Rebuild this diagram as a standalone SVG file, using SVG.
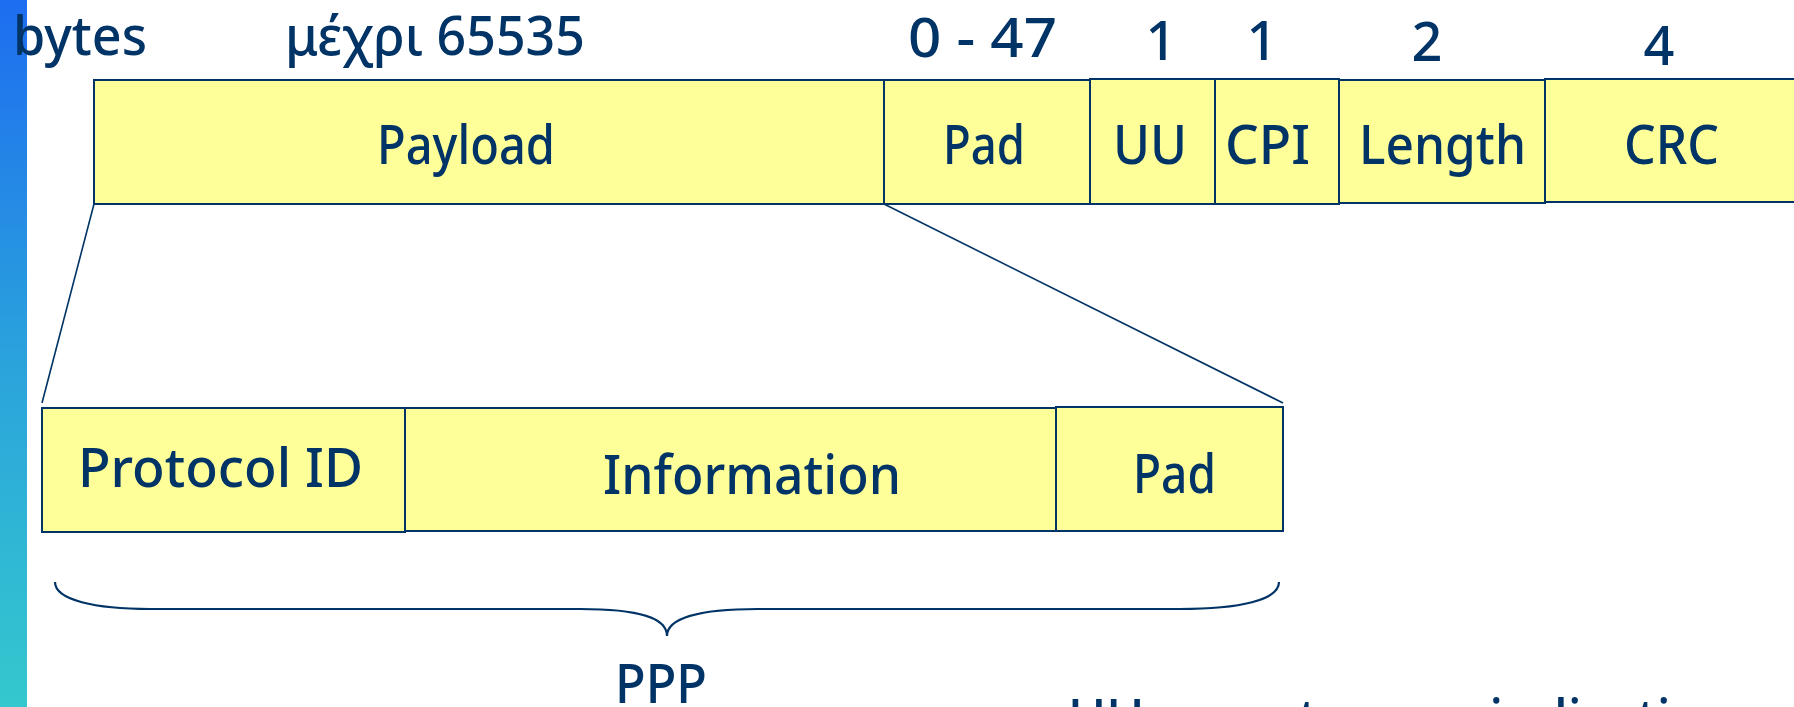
<svg xmlns="http://www.w3.org/2000/svg" width="1794" height="707" viewBox="0 0 1794 707">
  <defs>
    <linearGradient id="bar" x1="0" y1="0" x2="0" y2="1">
      <stop offset="0" stop-color="#1E6DF0"/>
      <stop offset="0.5" stop-color="#2AA2DC"/>
      <stop offset="1" stop-color="#34C8CE"/>
    </linearGradient>
  </defs>
  <style>
    .box { fill: #FFFF99; stroke: #003366; stroke-width: 2; }
    .t { font-family: "Noto Sans", "DejaVu Sans", sans-serif; font-size: 54px; font-weight: 500; fill: #003366; }
    .ln { fill: none; stroke: #003366; stroke-width: 1.6; }
    .br { fill: none; stroke: #003366; stroke-width: 2.2; }
  </style>
  <rect x="0" y="0" width="1794" height="707" fill="#ffffff"/>
  <rect id="sidebar" x="0" y="0" width="27" height="707" fill="url(#bar)"/>

  <g id="size-labels">
    <text class="t" x="13" y="55" textLength="134" lengthAdjust="spacingAndGlyphs">bytes</text>
    <text class="t" x="285" y="55" textLength="300" lengthAdjust="spacingAndGlyphs">μέχρι 65535</text>
    <text class="t" x="908" y="57" textLength="149" lengthAdjust="spacingAndGlyphs">0 - 47</text>
    <text class="t" x="1161" y="60" text-anchor="middle">1</text>
    <text class="t" x="1262" y="60" text-anchor="middle">1</text>
    <text class="t" x="1427" y="61" text-anchor="middle">2</text>
    <text class="t" x="1659" y="65" text-anchor="middle">4</text>
  </g>

  <g id="connectors">
    <line class="ln" x1="94" y1="204" x2="42" y2="403"/>
    <line class="ln" x1="884" y1="204" x2="1283" y2="403"/>
  </g>

  <g id="payload">
    <rect class="box" x="94" y="80" width="790" height="124"/>
    <text class="t" x="377" y="164" textLength="178" lengthAdjust="spacingAndGlyphs">Payload</text>
  </g>
  <g id="pad-top">
    <rect class="box" x="884" y="80" width="206" height="124"/>
    <text class="t" x="943" y="164" textLength="82" lengthAdjust="spacingAndGlyphs">Pad</text>
  </g>
  <g id="uu">
    <rect class="box" x="1090" y="79" width="125" height="125"/>
    <text class="t" x="1113" y="164" textLength="74" lengthAdjust="spacingAndGlyphs">UU</text>
  </g>
  <g id="cpi">
    <rect class="box" x="1215" y="79" width="124" height="125"/>
    <text class="t" x="1225" y="164" textLength="85" lengthAdjust="spacingAndGlyphs">CPI</text>
  </g>
  <g id="length">
    <rect class="box" x="1339" y="80" width="206" height="123"/>
    <text class="t" x="1359" y="164" textLength="167" lengthAdjust="spacingAndGlyphs">Length</text>
  </g>
  <g id="crc">
    <rect class="box" x="1545" y="79" width="260" height="123"/>
    <text class="t" x="1624" y="164" textLength="95" lengthAdjust="spacingAndGlyphs">CRC</text>
  </g>

  <g id="protocol-id">
    <rect class="box" x="42" y="408" width="363" height="124"/>
    <text class="t" x="78" y="487" textLength="285" lengthAdjust="spacingAndGlyphs">Protocol ID</text>
  </g>
  <g id="information">
    <rect class="box" x="405" y="408" width="651" height="123"/>
    <text class="t" x="603" y="494" textLength="298" lengthAdjust="spacingAndGlyphs">Information</text>
  </g>
  <g id="pad-bottom">
    <rect class="box" x="1056" y="407" width="227" height="124"/>
    <text class="t" x="1133" y="493" textLength="83" lengthAdjust="spacingAndGlyphs">Pad</text>
  </g>

  <g id="ppp-brace">
    <path class="br" d="M55,582 C55,600 95,609 150,609 L580,609 C640,609 667,618 667,636 C667,618 700,609 758,609 L1180,609 C1240,609 1279,600 1279,582"/>
    <text class="t" x="615" y="703" textLength="92" lengthAdjust="spacingAndGlyphs">PPP</text>
  </g>

  <g id="footnote">
    <text class="t" x="1068" y="738" textLength="667" lengthAdjust="spacingAndGlyphs">UU: user-to-user indication</text>
  </g>
</svg>
